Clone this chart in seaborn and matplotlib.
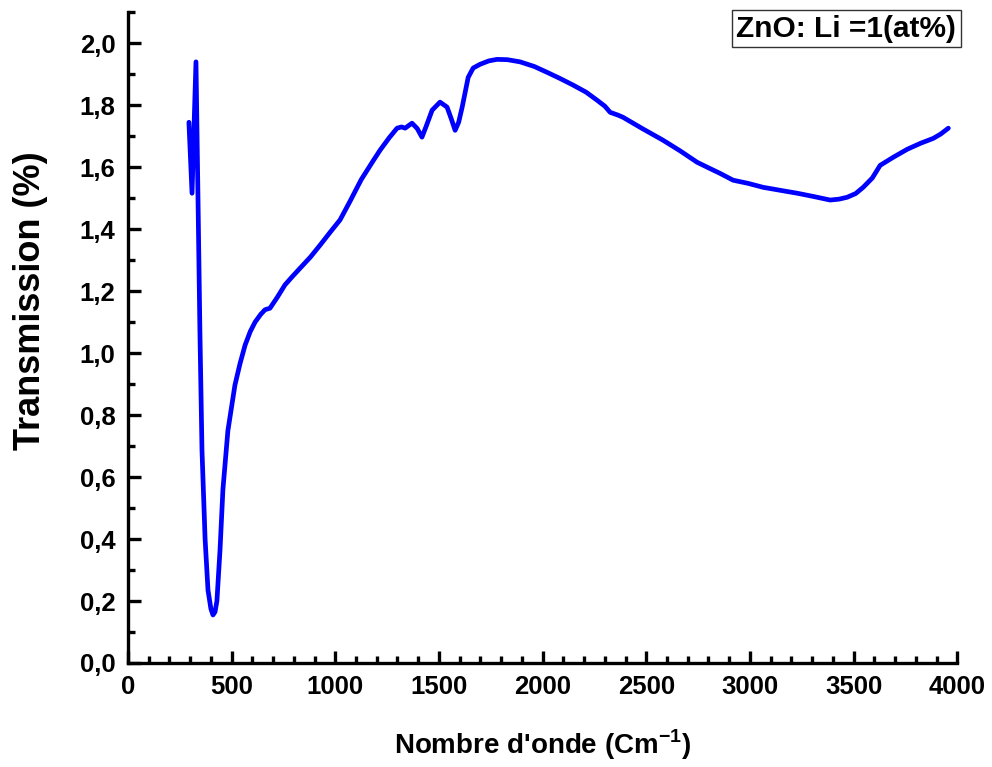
import matplotlib
matplotlib.use("Agg")
import matplotlib.pyplot as plt
import seaborn as sns
import pandas as pd
from matplotlib.ticker import MultipleLocator, FuncFormatter

wavenumber = [294, 309, 328, 338, 347, 357, 372, 386, 400, 410, 420, 429, 444, 458, 482,
              516, 540, 565, 590, 613, 640, 661, 685, 720, 757, 790, 830, 880, 926, 975,
              1023, 1071, 1125, 1182, 1216, 1260, 1298, 1320, 1337, 1355, 1370, 1395,
              1418, 1440, 1467, 1505, 1539, 1560, 1578, 1595, 1612, 1641, 1665, 1698,
              1740, 1780, 1830, 1891, 1960, 2022, 2085, 2147, 2210, 2263, 2300, 2326,
              2364, 2388, 2480, 2581, 2665, 2745, 2800, 2856, 2919, 2990, 3064, 3150,
              3228, 3310, 3387, 3430, 3469, 3510, 3546, 3590, 3628, 3691, 3759, 3822,
              3884, 3920, 3957]
transmission = [1.745, 1.516, 1.94, 1.49, 1.07, 0.687, 0.40, 0.235, 0.175, 0.155, 0.165,
                0.20, 0.365, 0.56, 0.75, 0.897, 0.965, 1.026, 1.07, 1.10, 1.125, 1.14,
                1.145, 1.18, 1.22, 1.245, 1.274, 1.31, 1.348, 1.39, 1.43, 1.49, 1.56, 1.62,
                1.655, 1.695, 1.726, 1.73, 1.726, 1.735, 1.742, 1.725, 1.697, 1.735,
                1.784, 1.81, 1.794, 1.755, 1.719, 1.745, 1.794, 1.89, 1.92, 1.932, 1.943,
                1.948, 1.947, 1.94, 1.925, 1.906, 1.886, 1.865, 1.842, 1.816, 1.797,
                1.777, 1.768, 1.761, 1.725, 1.687, 1.652, 1.616, 1.598, 1.58, 1.558,
                1.548, 1.535, 1.525, 1.516, 1.505, 1.494, 1.497, 1.503, 1.515, 1.535,
                1.565, 1.606, 1.632, 1.658, 1.677, 1.693, 1.707, 1.726]

df = pd.DataFrame({"x": wavenumber, "y": transmission})

sns.set_style("ticks")
plt.rcParams['font.family'] = ['Liberation Sans', 'DejaVu Sans']
plt.rcParams['font.weight'] = 'bold'
plt.rcParams['text.color'] = 'black'
plt.rcParams['axes.labelcolor'] = 'black'
plt.rcParams['xtick.color'] = 'black'
plt.rcParams['ytick.color'] = 'black'
plt.rcParams['mathtext.fontset'] = 'custom'
plt.rcParams['mathtext.rm'] = 'Liberation Sans:bold'
plt.rcParams['mathtext.bf'] = 'Liberation Sans:bold'

fig = plt.figure(figsize=(9.92, 7.67), dpi=100)
ax = fig.add_axes([0.129, 0.1356, 0.836, 0.8484])
sns.lineplot(data=df, x="x", y="y", sort=False, color="#0000ff", linewidth=3.4, ax=ax,
             label="ZnO: Li =1(at%)")
for ln in ax.get_lines():
    ln.set_solid_joinstyle("round")
    ln.set_solid_capstyle("round")

ax.set_xlim(0, 4000)
ax.set_ylim(0, 2.1)
ax.xaxis.set_major_locator(MultipleLocator(500))
ax.xaxis.set_minor_locator(MultipleLocator(100))
ax.yaxis.set_major_locator(MultipleLocator(0.2))
ax.yaxis.set_minor_locator(MultipleLocator(0.1))
ax.yaxis.set_major_formatter(FuncFormatter(lambda v, p: f"{v:.1f}".replace(".", ",")))

for s in ["top", "right"]:
    ax.spines[s].set_visible(False)
for s in ["left", "bottom"]:
    ax.spines[s].set_linewidth(2.4)
    ax.spines[s].set_color("black")

ax.tick_params(which="major", direction="in", length=9, width=2.4, labelsize=18.5, pad=9)
ax.tick_params(which="minor", direction="in", length=5, width=2.4)
for lab in ax.get_xticklabels() + ax.get_yticklabels():
    lab.set_fontweight("bold")

ax.set_xlabel("Nombre d'onde (Cm$^{\\mathrm{-1}}$)", fontsize=20, fontweight="bold", labelpad=20)
ax.set_ylabel("Transmission (%)", fontsize=26, fontweight="bold")
ax.yaxis.set_label_coords(-0.097, 0.557)

leg = ax.legend(loc="upper right", handlelength=0, handletextpad=0, fontsize=21.5,
                frameon=True, fancybox=False, edgecolor="black", borderpad=0.15,
                borderaxespad=0, bbox_to_anchor=(1.004, 1.003))
for h in leg.legend_handles:
    h.set_visible(False)
for t in leg.get_texts():
    t.set_fontweight("bold")
leg.get_frame().set_linewidth(1.0)

fig.savefig("out.png", dpi=100)
